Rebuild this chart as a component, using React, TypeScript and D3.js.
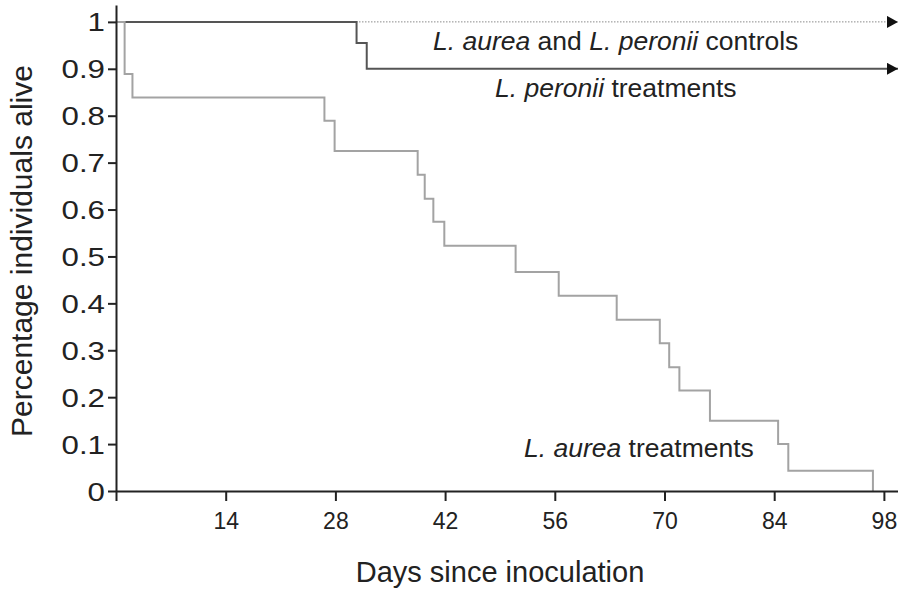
import React, { useEffect, useRef } from 'react';
import * as d3 from 'd3';

// Kaplan-Meier style survival data
const aureaDays = [0, 1.1, 2.1, 26.6, 27.9, 38.5, 39.4, 40.5, 41.9, 51.0, 56.5, 63.9, 69.4, 70.6, 71.9, 75.8, 84.5, 85.8, 96.6];
const aureaSurvival = [1, 0.889, 0.839, 0.789, 0.725, 0.674, 0.623, 0.574, 0.523, 0.467, 0.416, 0.365, 0.315, 0.264, 0.214, 0.15, 0.1, 0.043, 0];

const peroniiDays = [0, 30.7, 32.0];
const peroniiSurvival = [1, 0.955, 0.9];

const controlDays = [0];
const controlSurvival = [1];

const xTicks = [0, 14, 28, 42, 56, 70, 84, 98];
const yTicks = [0, 0.1, 0.2, 0.3, 0.4, 0.5, 0.6, 0.7, 0.8, 0.9, 1];

const W = 898;
const H = 589;
const FONT = '"Liberation Sans", Arial, Helvetica, sans-serif';

const App = () => {
  const svgRef = useRef<SVGSVGElement>(null);

  useEffect(() => {
    const svg = d3.select(svgRef.current);
    svg.selectAll('*').remove();

    const xMax = 99.8;
    const x = d3.scaleLinear().domain([0, xMax]).range([116, 898]);
    const y = d3.scaleLinear().domain([0, 1.036]).range([491, 5]);

    // arrow marker
    svg.append('defs')
      .append('marker')
      .attr('id', 'arrow')
      .attr('markerUnits', 'userSpaceOnUse')
      .attr('markerWidth', 12)
      .attr('markerHeight', 13)
      .attr('refX', 11)
      .attr('refY', 6)
      .attr('orient', 'auto')
      .append('path')
      .attr('d', 'M0,0 L11,6 L0,12 Z')
      .attr('fill', '#111');

    const line = d3.line<[number, number]>()
      .x(d => x(d[0]))
      .y(d => y(d[1]))
      .curve(d3.curveStepAfter);

    const toPoints = (days: number[], surv: number[], end?: number) => {
      const pts: [number, number][] = days.map((d, i) => [d, surv[i]]);
      if (end !== undefined) pts.push([end, surv[surv.length - 1]]);
      return pts;
    };

    // controls (dotted)
    svg.append('path')
      .attr('d', line(toPoints(controlDays, controlSurvival, xMax)))
      .attr('fill', 'none')
      .attr('stroke', '#8a8a8a')
      .attr('stroke-width', 1)
      .attr('stroke-dasharray', '1.5,1.5')
      .attr('marker-end', 'url(#arrow)');

    // L. peronii treatments
    svg.append('path')
      .attr('d', line(toPoints(peroniiDays, peroniiSurvival, xMax)))
      .attr('fill', 'none')
      .attr('stroke', '#555')
      .attr('stroke-width', 2)
      .attr('marker-end', 'url(#arrow)');

    // L. aurea treatments
    svg.append('path')
      .attr('d', line(toPoints(aureaDays, aureaSurvival)))
      .attr('fill', 'none')
      .attr('stroke', '#a3a3a3')
      .attr('stroke-width', 2);

    // axes
    const yAxis = d3.axisLeft(y)
      .tickValues(yTicks)
      .tickSize(8)
      .tickSizeOuter(0)
      .tickPadding(3)
      .tickFormat(d => d3.format('~g')(d as number));

    const gy = svg.append('g')
      .attr('transform', 'translate(116,0)')
      .call(yAxis);
    gy.select('.domain').attr('stroke', '#222').attr('stroke-width', 2);
    gy.selectAll('.tick line').attr('stroke', '#222').attr('stroke-width', 2);
    // y labels in the source are drawn a little wider than the x labels
    gy.selectAll('.tick text')
      .attr('fill', '#222')
      .attr('x', 0)
      .attr('dy', '0.36em')
      .attr('transform', 'translate(-11,0) scale(1.25,1)')
      .style('font-family', FONT)
      .style('font-size', '25px');

    const xAxis = d3.axisBottom(x)
      .tickValues(xTicks)
      .tickSize(10)
      .tickSizeOuter(0)
      .tickPadding(12)
      .tickFormat(d => (d === 0 ? '' : String(d)));

    const gx = svg.append('g')
      .attr('transform', 'translate(0,491)')
      .call(xAxis);
    gx.select('.domain').attr('stroke', '#222').attr('stroke-width', 2);
    gx.selectAll('.tick line').attr('stroke', '#222').attr('stroke-width', 2);
    gx.selectAll('.tick text')
      .attr('fill', '#222')
      .style('font-family', FONT)
      .style('font-size', '23px');

    // annotations
    const annotate = (xPos: number, yPos: number, parts: [string, boolean][]) => {
      const t = svg.append('text')
        .attr('x', xPos)
        .attr('y', yPos)
        .attr('fill', '#222')
        .style('font-family', FONT)
        .style('font-size', '26.5px');
      parts.forEach(([s, italic]) => {
        t.append('tspan')
          .style('font-style', italic ? 'italic' : 'normal')
          .text(s);
      });
    };

    annotate(433, 50, [['L. aurea', true], [' and ', false], ['L. peronii', true], [' controls', false]]);
    annotate(495, 97, [['L. peronii', true], [' treatments', false]]);
    annotate(524, 457, [['L. aurea', true], [' treatments', false]]);

    // axis titles
    svg.append('text')
      .attr('x', 500)
      .attr('y', 582)
      .attr('text-anchor', 'middle')
      .attr('fill', '#222')
      .style('font-family', FONT)
      .style('font-size', '29px')
      .text('Days since inoculation');

    svg.append('text')
      .attr('transform', 'translate(32,251) rotate(-90)')
      .attr('text-anchor', 'middle')
      .attr('fill', '#222')
      .style('font-family', FONT)
      .style('font-size', '30px')
      .text('Percentage individuals alive');
  }, []);

  return (
    <svg
      ref={svgRef}
      width={W}
      height={H}
      style={{ position: 'absolute', left: 0, top: 0, background: '#fff' }}
    />
  );
};

export default App;
